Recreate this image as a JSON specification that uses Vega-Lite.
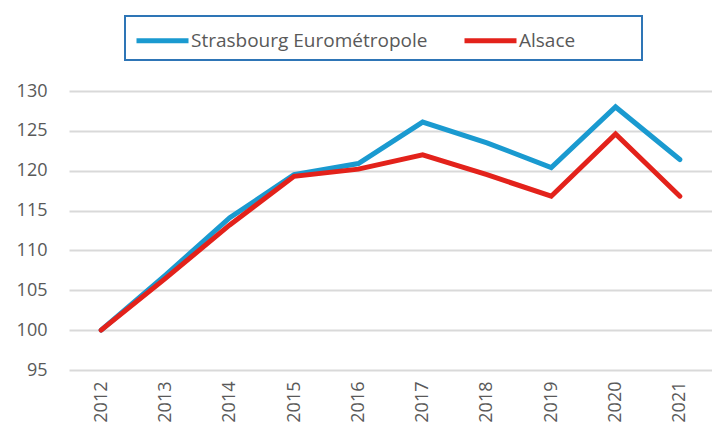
{
  "$schema": "https://vega.github.io/schema/vega-lite/v6.json",
  "width": 712,
  "height": 435,
  "autosize": {"type": "fit", "contains": "padding"},
  "padding": {"left": 16, "top": 82, "right": 0, "bottom": 12},
  "background": "white",
  "config": {
    "font": "Open Sans",
    "view": {"stroke": null},
    "axis": {"labelColor": "#595959", "labelFontSize": 18, "labelFont": "Open Sans"}
  },
  "data": {
    "values": [
      {"year": "2012", "series": "Strasbourg Eurométropole", "value": 100},
      {"year": "2013", "series": "Strasbourg Eurométropole", "value": 106.9},
      {"year": "2014", "series": "Strasbourg Eurométropole", "value": 114.1},
      {"year": "2015", "series": "Strasbourg Eurométropole", "value": 119.5},
      {"year": "2016", "series": "Strasbourg Eurométropole", "value": 120.9},
      {"year": "2017", "series": "Strasbourg Eurométropole", "value": 126.1},
      {"year": "2018", "series": "Strasbourg Eurométropole", "value": 123.5},
      {"year": "2019", "series": "Strasbourg Eurométropole", "value": 120.4},
      {"year": "2020", "series": "Strasbourg Eurométropole", "value": 128.0},
      {"year": "2021", "series": "Strasbourg Eurométropole", "value": 121.4},
      {"year": "2012", "series": "Alsace", "value": 100},
      {"year": "2013", "series": "Alsace", "value": 106.5},
      {"year": "2014", "series": "Alsace", "value": 113.2},
      {"year": "2015", "series": "Alsace", "value": 119.3},
      {"year": "2016", "series": "Alsace", "value": 120.2},
      {"year": "2017", "series": "Alsace", "value": 122.0},
      {"year": "2018", "series": "Alsace", "value": 119.5},
      {"year": "2019", "series": "Alsace", "value": 116.8},
      {"year": "2020", "series": "Alsace", "value": 124.6},
      {"year": "2021", "series": "Alsace", "value": 116.8}
    ]
  },
  "mark": {"type": "line", "strokeWidth": 5, "strokeCap": "round", "strokeJoin": "miter"},
  "encoding": {
    "x": {
      "field": "year", "type": "ordinal", "title": null,
      "axis": {"labelAngle": -90, "ticks": false, "domain": false, "labelPadding": 11, "labelBaseline": "middle", "labelAlign": "right"}
    },
    "y": {
      "field": "value", "type": "quantitative", "title": null,
      "scale": {"domain": [95, 130], "nice": false, "zero": false},
      "axis": {"values": [95, 100, 105, 110, 115, 120, 125, 130], "ticks": false, "domain": false, "labelPadding": 22, "gridColor": "#d9d9d9", "gridWidth": 2}
    },
    "color": {
      "field": "series", "type": "nominal",
      "scale": {"domain": ["Strasbourg Eurométropole", "Alsace"], "range": ["#1a9ad0", "#e3221b"]},
      "legend": {
        "title": " ",
        "titleOrient": "right",
        "titlePadding": 58,
        "titleFontSize": 10,
        "orient": "none",
        "direction": "horizontal",
        "legendX": 56,
        "legendY": -75,
        "strokeColor": "#2e75b6",
        "padding": 9,
        "symbolType": "M-1,0H3",
        "symbolSize": 676,
        "symbolStrokeWidth": 5,
        "symbolStrokeCap": "round",
        "labelFontSize": 19,
        "labelLimit": 400,
        "labelColor": "#595959",
        "labelOffset": 26,
        "columnPadding": 26,
        "encode": {"legend": {"update": {"strokeWidth": {"value": 2}}}}
      }
    }
  }
}
